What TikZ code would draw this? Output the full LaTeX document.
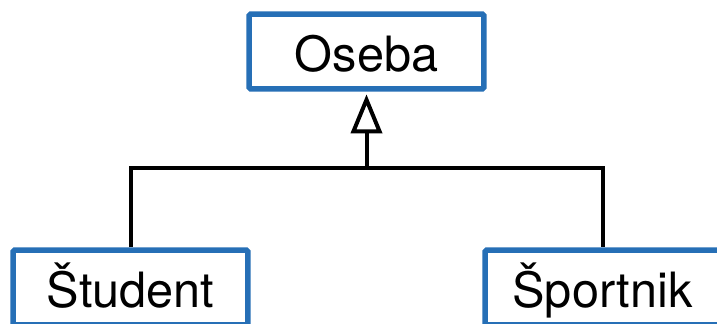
\documentclass[tikz,border=0pt]{standalone}
\usepackage{fontspec}
\setmainfont{TeX Gyre Heros}
\usepackage{xcolor}
\usetikzlibrary{arrows.meta}
\definecolor{class-blue}{RGB}{38, 111, 182}

\begin{document}
\begin{tikzpicture}[x=0.02cm, y=-0.02cm,
    classbox/.style={draw=class-blue, line width=0.11cm, rounded corners=1pt,
        minimum width=4.7cm, minimum height=1.5cm, inner sep=0pt,
        text height=0.98cm, text depth=0.18cm,
        font=\fontsize{27.7}{32}\selectfont},
    link/.style={line width=0.08cm},
    inherit/.style={link, shorten >=1.5pt,
        -{Triangle[open, length=0.78cm, width=0.62cm]}}]
\clip (0,0) rectangle (717,324);

\node[classbox] (oseba) at (366.5,51.5) {Oseba};
\node[classbox] (student) at (130.5,287.5) {Študent};
\node[classbox] (sportnik) at (602.5,287.5) {Športnik};

% generalisation: both subclasses join into one arrow
\coordinate (join) at (oseba.south |- 0,168);
\draw[link] (student.north) |- (join) -| (sportnik.north);
\draw[inherit] (join) -- (oseba.south);

\end{tikzpicture}
\end{document}
